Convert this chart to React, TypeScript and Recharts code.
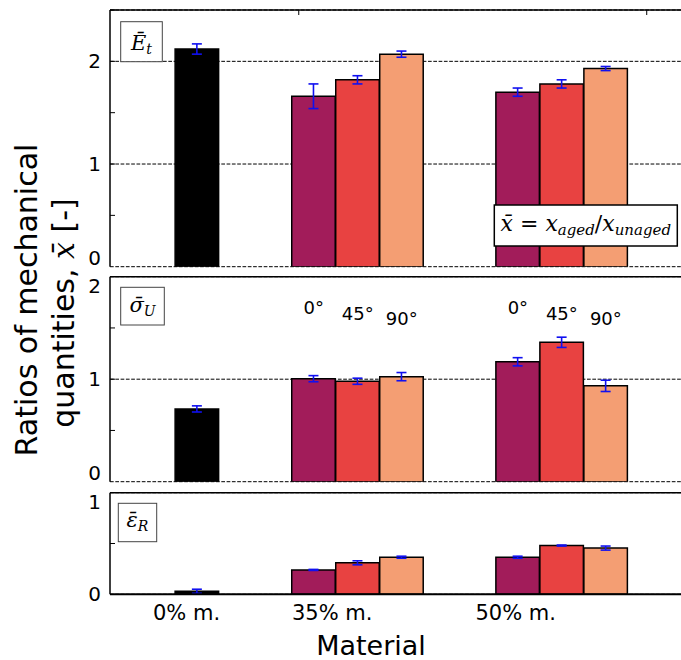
import React from "react";
import {
  ComposedChart,
  Bar,
  Cell,
  ErrorBar,
  XAxis,
  YAxis,
  CartesianGrid,
  ReferenceDot,
} from "recharts";

// ---------- data ----------
const categories = ["0% m.", "35% m.", "50% m."];
const orientations = ["0°", "45°", "90°"];
// group centres on the x axis (measured in bar widths)
const groupCenters = [1.98, 5.63, 10.27];
// positions of the category tick labels on the same x axis
const categoryLabelTicks = [1.74, 5.05, 9.22];

// E_t ratios
const etValues = [[2.12], [1.66, 1.82, 2.07], [1.7, 1.78, 1.93]];
const etErrors = [[0.05], [0.12, 0.04, 0.03], [0.04, 0.04, 0.02]];
// sigma_U ratios
const suValues = [[0.71], [1.005, 0.98, 1.025], [1.17, 1.36, 0.935]];
const suErrors = [[0.03], [0.03, 0.03, 0.04], [0.04, 0.05, 0.055]];
// epsilon_R ratios
const erValues = [[0.03], [0.24, 0.31, 0.365], [0.365, 0.48, 0.455]];
const erErrors = [[0.02], [0.005, 0.02, 0.01], [0.01, 0.005, 0.02]];

// heights (in data units of the sigma panel) of the orientation annotations
const angleLabelY = [1.7, 1.645, 1.59];

// ---------- styles ----------
const COLORS: Record<string, string> = {
  ref: "#000000",
  "0°": "#A21C5A",
  "45°": "#E84241",
  "90°": "#F49E73",
};
const H = 660;
const W = 690;
const PLOT_RIGHT = 682;
const X_DOMAIN: [number, number] = [0, 13];
const SANS = "DejaVu Sans, sans-serif";
const SERIF = "DejaVu Serif, serif";

type Row = { x: number; v: number; e: number; key: string };

function buildRows(values: number[][], errors: number[][]): Row[] {
  const rows: Row[] = [];
  values.forEach((group, g) => {
    group.forEach((v, i) => {
      const single = group.length === 1;
      const offset = single ? 0 : i - (group.length - 1) / 2;
      rows.push({
        x: groupCenters[g] + offset,
        v,
        e: errors[g][i],
        key: single ? "ref" : orientations[i],
      });
    });
  });
  return rows;
}

const etRows = buildRows(etValues, etErrors);
const suRows = buildRows(suValues, suErrors);
const erRows = buildRows(erValues, erErrors);

type PanelProps = {
  rows: Row[];
  plotTop: number;
  plotBottom: number;
  yMax: number;
  yTicks: number[];
  minorTicks: number[];
  topTicks?: number[];
  bottomLabels?: boolean;
  angleMarks?: boolean;
  lowLabelUp?: boolean;
  highLabelDown?: boolean;
};

function Panel({
  rows,
  plotTop,
  plotBottom,
  yMax,
  yTicks,
  minorTicks,
  topTicks,
  bottomLabels,
  angleMarks,
  lowLabelUp,
  highLabelDown,
}: PanelProps) {
  const bottomAxisH = bottomLabels ? 40 : 0;
  const marks: { x: number; y: number; label: string }[] = [];
  if (angleMarks) {
    [1, 2].forEach((g) => {
      orientations.forEach((o, i) => {
        marks.push({ x: groupCenters[g] + (i - 1), y: angleLabelY[i], label: o });
      });
    });
  }
  const lowTick = yTicks[0];
  const highTick = yTicks[yTicks.length - 1];
  const renderYTick = (p: any) => {
    const v = p.payload?.value;
    let dy: number | string = "0.355em";
    if (lowLabelUp && v === lowTick) dy = -2;
    else if (highLabelDown && v === highTick) dy = 16;
    return (
      <text
        x={p.x}
        y={p.y}
        dy={dy}
        textAnchor="end"
        fontSize={20}
        fontFamily={SANS}
        fill="#000"
      >
        {v}
      </text>
    );
  };
  return (
    <div style={{ position: "absolute", left: 0, top: 0 }}>
      <ComposedChart
        width={W}
        height={H}
        data={rows}
        margin={{ top: plotTop, bottom: H - plotBottom - bottomAxisH, left: 0, right: W - PLOT_RIGHT }}
      >
        <CartesianGrid vertical={false} stroke="#000" strokeDasharray="3.7 1.6" strokeWidth={1} />
        <Bar
          dataKey="v"
          barSize={43.5}
          stroke="#000"
          strokeWidth={1.5}
          isAnimationActive={false}
        >
          {rows.map((r, i) => (
            <Cell key={i} fill={COLORS[r.key]} />
          ))}
          <ErrorBar dataKey="e" width={5} stroke="#1010f0" strokeWidth={1.6} direction="y" />
        </Bar>
        {marks.map((m, i) => (
          <ReferenceDot
            key={i}
            x={m.x}
            y={m.y}
            r={0}
            shape={(p: any) => (
              <text
                x={p.cx}
                y={p.cy}
                textAnchor="middle"
                dominantBaseline="central"
                fontSize={18}
                fontFamily={SANS}
                fill="#000"
              >
                {m.label}
              </text>
            )}
          />
        ))}
        <XAxis
          dataKey="x"
          type="number"
          domain={X_DOMAIN}
          allowDataOverflow
          ticks={categoryLabelTicks}
          interval={0}
          height={bottomAxisH}
          tickLine={false}
          tickSize={0}
          tickMargin={10.5}
          tick={bottomLabels ? { fill: "#000", fontSize: 21, fontFamily: SANS } : false}
          tickFormatter={(v: number) => categories[categoryLabelTicks.indexOf(v)] ?? ""}
          axisLine={{ stroke: "#000", strokeWidth: 2 }}
        />
        <XAxis
          xAxisId="top"
          orientation="top"
          mirror
          type="number"
          domain={X_DOMAIN}
          allowDataOverflow
          ticks={topTicks && topTicks.length ? topTicks : [0]}
          interval={0}
          tickSize={5}
          tickLine={topTicks && topTicks.length ? { stroke: "#000", strokeWidth: 1 } : false}
          tickFormatter={() => ""}
          axisLine={{ stroke: "#000", strokeWidth: 1.5 }}
        />
        <YAxis
          type="number"
          domain={[0, yMax]}
          allowDataOverflow
          ticks={yTicks}
          interval={0}
          width={110}
          tickLine={false}
          tickSize={0}
          tickMargin={9}
          tick={renderYTick}
          axisLine={{ stroke: "#000", strokeWidth: 1.5 }}
        />
        <YAxis
          yAxisId="minor"
          mirror
          type="number"
          domain={[0, yMax]}
          allowDataOverflow
          ticks={minorTicks}
          interval={0}
          tickSize={5}
          tickLine={{ stroke: "#000", strokeWidth: 1 }}
          tickFormatter={() => ""}
          axisLine={false}
        />
      </ComposedChart>
    </div>
  );
}

function Overlay() {
  return (
    <svg
      width={681}
      height={660}
      style={{ position: "absolute", left: 0, top: 0, pointerEvents: "none" }}
    >
      {/* y-axis title */}
      <text
        transform="translate(37,300) rotate(-90)"
        textAnchor="middle"
        fontSize={30}
        fontFamily={SANS}
        fill="#000"
      >
        Ratios of mechanical
      </text>
      <text
        transform="translate(74,313) rotate(-90)"
        textAnchor="middle"
        fontSize={30}
        fontFamily={SANS}
        fill="#000"
      >
        quantities,{" "}
        <tspan fontFamily={SERIF} fontStyle="italic">
          {"x\u0304"}
        </tspan>{" "}
        [-]
      </text>
      {/* x-axis title */}
      <text x={371} y={655} textAnchor="middle" fontSize={27} fontFamily={SANS} fill="#000">
        Material
      </text>

      {/* panel labels */}
      <rect x={120.7} y={21.7} width={41.6} height={40} fill="#fff" stroke="#444" strokeWidth={1} />
      <text x={141.5} y={50} textAnchor="middle" fontFamily={SERIF} fontStyle="italic" fontSize={21} fill="#000">
        {"\u0112"}
        <tspan fontSize={14} dy={4}>
          t
        </tspan>
      </text>

      <rect x={120.7} y={287.3} width={43.6} height={37.7} fill="#fff" stroke="#444" strokeWidth={1} />
      <text x={142.5} y={312} textAnchor="middle" fontFamily={SERIF} fontStyle="italic" fontSize={21} fill="#000">
        {"\u03C3\u0304"}
        <tspan fontSize={14} dy={4}>
          U
        </tspan>
      </text>

      <rect x={118.3} y={503.3} width={38.4} height={38.4} fill="#fff" stroke="#444" strokeWidth={1} />
      <text x={137.5} y={527} textAnchor="middle" fontFamily={SERIF} fontStyle="italic" fontSize={21} fill="#000">
        {"\u03B5\u0304"}
        <tspan fontSize={14} dy={4}>
          R
        </tspan>
      </text>

      {/* definition box */}
      <rect x={494.3} y={205} width={183} height={41} fill="#fff" stroke="#000" strokeWidth={1.5} />
      <text x={585.8} y={231} textAnchor="middle" fontFamily={SERIF} fontSize={22} fill="#000">
        <tspan fontStyle="italic">{"x\u0304"}</tspan>
        <tspan> = </tspan>
        <tspan fontStyle="italic">x</tspan>
        <tspan fontStyle="italic" fontSize={15} dy={4}>
          aged
        </tspan>
        <tspan dy={-4}>/</tspan>
        <tspan fontStyle="italic">x</tspan>
        <tspan fontStyle="italic" fontSize={15} dy={4}>
          unaged
        </tspan>
      </text>
    </svg>
  );
}

export default function App() {
  return (
    <div
      style={{
        position: "fixed",
        left: 0,
        top: 0,
        width: 681,
        height: 660,
        overflow: "hidden",
        background: "#fff",
      }}
    >
      <Panel
        rows={etRows}
        plotTop={10}
        plotBottom={266.7}
        yMax={2.5}
        yTicks={[0, 1, 2]}
        minorTicks={[0.5, 1, 1.5, 2, 2.5]}
        topTicks={groupCenters}
        lowLabelUp
      />
      <Panel
        rows={suRows}
        plotTop={276.7}
        plotBottom={481.7}
        yMax={2}
        yTicks={[0, 1, 2]}
        minorTicks={[0.5, 1, 1.5]}
        angleMarks
        lowLabelUp
        highLabelDown
      />
      <Panel
        rows={erRows}
        plotTop={492.7}
        plotBottom={594.3}
        yMax={1}
        yTicks={[0, 1]}
        minorTicks={[0.5]}
        bottomLabels
        highLabelDown
      />
      <Overlay />
    </div>
  );
}
